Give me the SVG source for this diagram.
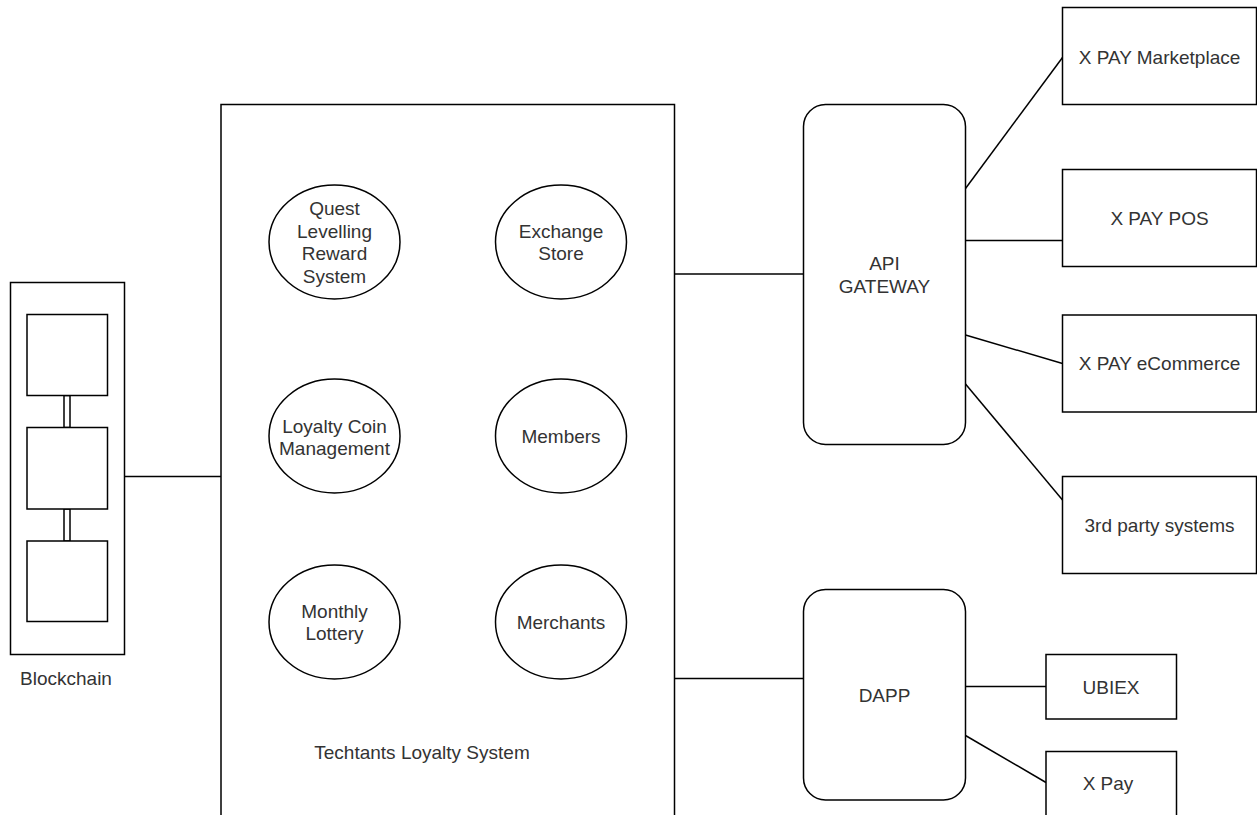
<svg xmlns="http://www.w3.org/2000/svg" width="1257" height="815" viewBox="0 0 1257 815">
<style>
.s{fill:#fff;stroke:#000;stroke-width:1.5}
.c{fill:none;stroke:#000;stroke-width:1.5}
text{font-family:"Liberation Sans",Arial,sans-serif;font-size:19px;fill:#333;text-anchor:middle}
</style>
<rect width="1257" height="815" fill="#fff"/>
<g id="connectors">
<line class="c" x1="124.5" y1="476.5" x2="221" y2="476.5"/>
<line class="c" x1="674.5" y1="274" x2="803.5" y2="274"/>
<line class="c" x1="674.5" y1="678.5" x2="803.5" y2="678.5"/>
<line class="c" x1="965.5" y1="188.5" x2="1062.5" y2="57.5"/>
<line class="c" x1="965.5" y1="240.5" x2="1062.5" y2="240.5"/>
<line class="c" x1="965.5" y1="335" x2="1062.5" y2="363.5"/>
<line class="c" x1="965.5" y1="384" x2="1062.5" y2="500"/>
<line class="c" x1="965.5" y1="686.5" x2="1046" y2="686.5"/>
<line class="c" x1="965.5" y1="735.5" x2="1046" y2="782.5"/>
</g>
<g id="blockchain">
<rect class="s" x="10.5" y="282.5" width="114" height="372"/>
<rect class="s" x="64" y="395.5" width="6" height="32"/>
<rect class="s" x="64" y="509" width="6" height="32"/>
<rect class="s" x="27" y="314.5" width="80.5" height="81"/>
<rect class="s" x="27" y="427.5" width="80.5" height="81.5"/>
<rect class="s" x="27" y="541" width="80.5" height="80.5"/>
<text x="66" y="684.5">Blockchain</text>
</g>
<g id="techtants">
<rect class="s" x="221" y="104.5" width="453.5" height="720"/>
<text x="422" y="758.5">Techtants Loyalty System</text>
</g>
<g id="quest">
<ellipse class="s" cx="334.5" cy="242" rx="65.5" ry="57"/>
<text x="334.5" y="215">Quest</text>
<text x="334.5" y="238">Levelling</text>
<text x="334.5" y="260">Reward</text>
<text x="334.5" y="282.5">System</text>
</g>
<g id="exchange">
<ellipse class="s" cx="561" cy="242" rx="65.5" ry="57"/>
<text x="561" y="238">Exchange</text>
<text x="561" y="260">Store</text>
</g>
<g id="loyaltycoin">
<ellipse class="s" cx="334.5" cy="436" rx="65.5" ry="57"/>
<text x="334.5" y="432.5">Loyalty Coin</text>
<text x="334.5" y="454.5">Management</text>
</g>
<g id="members">
<ellipse class="s" cx="561" cy="436" rx="65.5" ry="57"/>
<text x="561" y="443">Members</text>
</g>
<g id="lottery">
<ellipse class="s" cx="334.5" cy="622" rx="65.5" ry="57"/>
<text x="334.5" y="617.5">Monthly</text>
<text x="334.5" y="640">Lottery</text>
</g>
<g id="merchants">
<ellipse class="s" cx="561" cy="622" rx="65.5" ry="57"/>
<text x="561" y="628.5">Merchants</text>
</g>
<g id="apigateway">
<rect class="s" x="803.5" y="104.5" width="162" height="340" rx="22" ry="22"/>
<text x="884.5" y="270">API</text>
<text x="884.5" y="292.5">GATEWAY</text>
</g>
<g id="dapp">
<rect class="s" x="803.5" y="589.5" width="162" height="210.5" rx="22" ry="22"/>
<text x="884.5" y="701.5">DAPP</text>
</g>
<g id="marketplace">
<rect class="s" x="1062.5" y="7.5" width="194" height="97"/>
<text x="1159.5" y="63.5">X PAY Marketplace</text>
</g>
<g id="pos">
<rect class="s" x="1062.5" y="169.5" width="194" height="97"/>
<text x="1159.5" y="225">X PAY POS</text>
</g>
<g id="ecommerce">
<rect class="s" x="1062.5" y="315" width="194" height="97"/>
<text x="1159.5" y="370">X PAY eCommerce</text>
</g>
<g id="thirdparty">
<rect class="s" x="1062.5" y="476.5" width="194" height="97"/>
<text x="1159.5" y="531.5">3rd party systems</text>
</g>
<g id="ubiex">
<rect class="s" x="1046" y="654.5" width="130.5" height="64.5"/>
<text x="1111" y="694">UBIEX</text>
</g>
<g id="xpay">
<rect class="s" x="1046" y="751.5" width="130.5" height="80"/>
<text x="1108" y="790">X Pay</text>
</g>
</svg>
